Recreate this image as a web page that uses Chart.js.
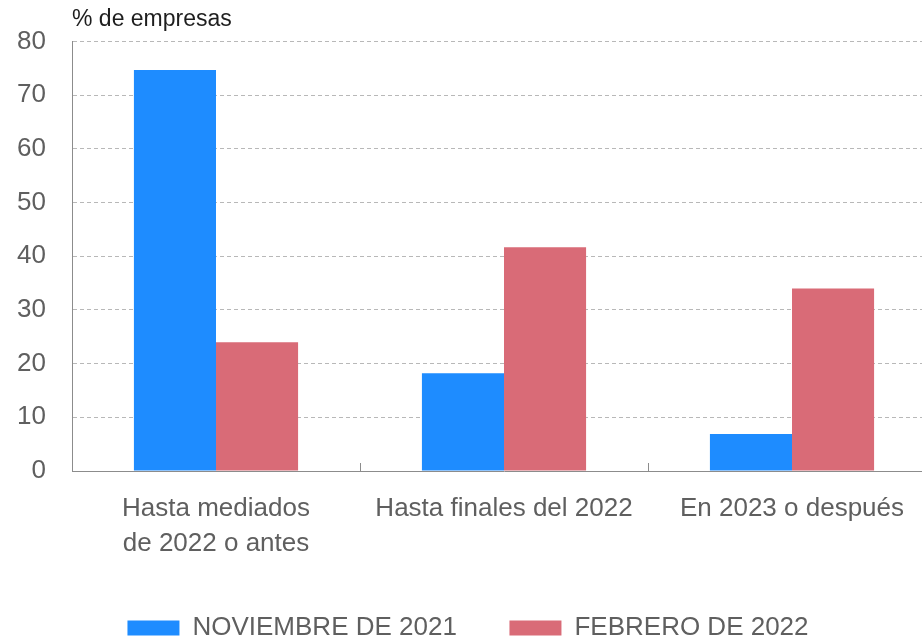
<!DOCTYPE html>
<html>
<head>
<meta charset="utf-8">
<script src="https://cdn.jsdelivr.net/npm/chart.js@4.4.0/dist/chart.umd.min.js"></script>
<style>
  html, body { margin: 0; padding: 0; overflow: hidden; background: #fff; }
  #wrap { position: relative; width: 936px; height: 642px; }
</style>
</head>
<body>
<div id="wrap"><canvas id="chart"></canvas></div>
<script>
// ----- data -----
const categories = [["Hasta mediados", "de 2022 o antes"], "Hasta finales del 2022", "En 2023 o después"];
const seriesNames = ["NOVIEMBRE DE 2021", "FEBRERO DE 2022"];
const nov2021 = [74.7, 18.2, 6.9];
const feb2022 = [24.0, 41.7, 34.0];
const yMin = 0, yMax = 80, yStep = 10;
const yTitle = "% de empresas";

const FONT = "'Liberation Sans', Arial, sans-serif";
const GREY = "#5f5f5f";

// short upward tick marks between categories, plus the y-axis unit label
const extras = {
  id: "extras",
  afterDraw(chart) {
    const { ctx, chartArea, scales: { x } } = chart;
    ctx.save();
    ctx.strokeStyle = "#8c8c8c";
    ctx.lineWidth = 1;
    for (let i = 0; i < categories.length - 1; i++) {
      const px = Math.round((x.getPixelForValue(i) + x.getPixelForValue(i + 1)) / 2) + 0.5;
      ctx.beginPath();
      ctx.moveTo(px, chartArea.bottom);
      ctx.lineTo(px, chartArea.bottom - 8);
      ctx.stroke();
    }
    ctx.fillStyle = "#1e1e1e";
    ctx.font = "23px " + FONT;
    ctx.textAlign = "left";
    ctx.textBaseline = "alphabetic";
    ctx.fillText(yTitle, chartArea.left, 26);
    ctx.restore();
  }
};

new Chart(document.getElementById("chart"), {
  type: "bar",
  data: {
    labels: categories,
    datasets: [
      { label: seriesNames[0], data: nov2021, backgroundColor: "#1e8cff" },
      { label: seriesNames[1], data: feb2022, backgroundColor: "#d96b77" }
    ]
  },
  options: {
    responsive: true,
    maintainAspectRatio: false,
    animation: false,
    layout: { padding: { top: 41, right: 0, bottom: -9, left: 0 } },
    datasets: { bar: { categoryPercentage: 0.57, barPercentage: 1.0 } },
    plugins: {
      tooltip: { enabled: false },
      legend: {
        position: "bottom",
        labels: {
          boxWidth: 52,
          boxHeight: 15,
          padding: 2,
          color: GREY,
          font: { family: FONT, size: 26 },
          generateLabels(chart) {
            //wider gap between the two entries
            const items = Chart.defaults.plugins.legend.labels.generateLabels(chart);
            items.forEach((it, i) => {
              if (i < items.length - 1) it.text += "       ";
            });
            return items;
          }
        }
      }
    },
    scales: {
      x: {
        grid: { display: false, drawTicks: false },
        border: { display: true, color: "#8c8c8c", width: 1 },
        ticks: {
          color: GREY,
          padding: 21,
          maxRotation: 0,
          autoSkip: false,
          font: { family: FONT, size: 26, lineHeight: 1.32 }
        },
        afterFit(scale) { scale.height = 142; }
      },
      y: {
        min: yMin,
        max: yMax,
        grid: { color: "#b8b8b8", lineWidth: 1, drawTicks: false },
        border: { display: true, color: "#8c8c8c", width: 1, dash: [4, 3] },
        ticks: {
          stepSize: yStep,
          color: GREY,
          padding: 26,
          font: { family: FONT, size: 26 }
        },
        afterFit(scale) { scale.width = 72; }
      }
    }
  },
  plugins: [extras]
});
</script>
</body>
</html>
